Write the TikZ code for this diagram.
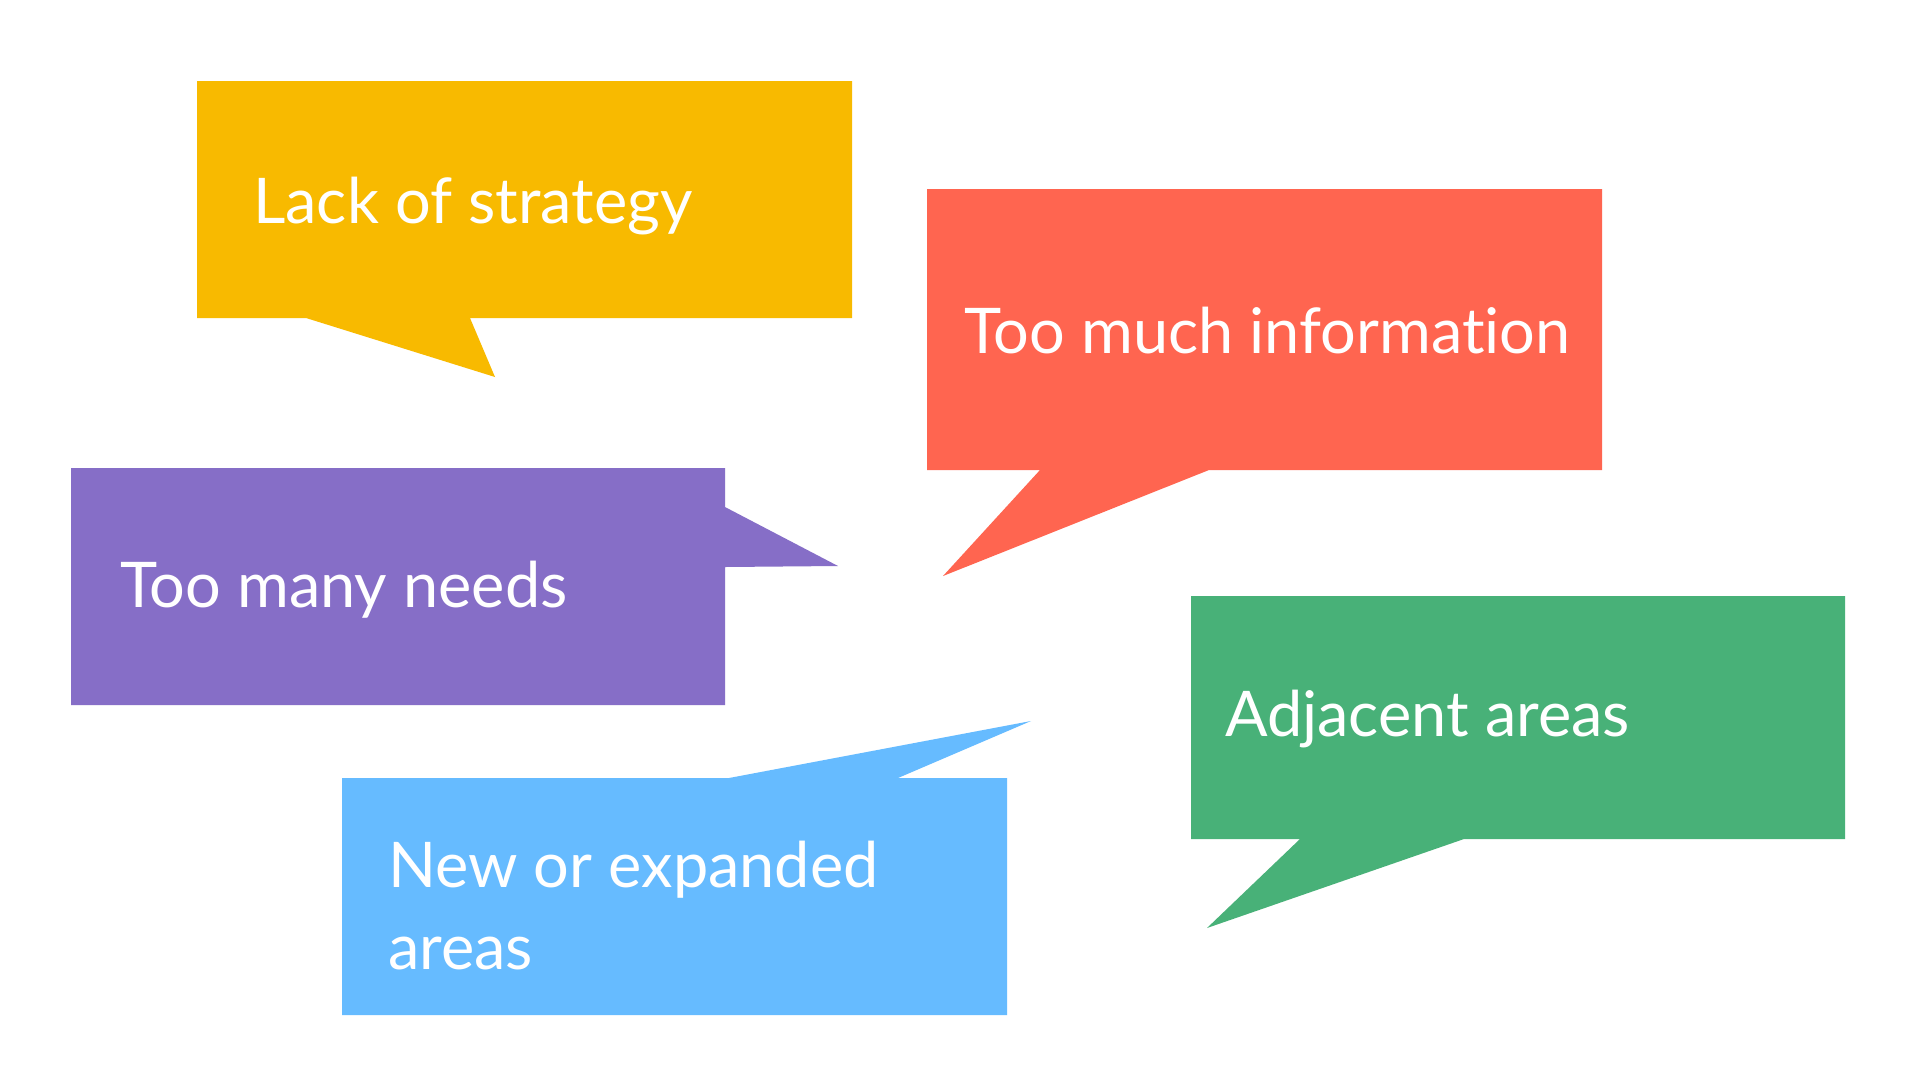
\documentclass[tikz,border=0pt]{standalone}
\usepackage{fontspec}
\setmainfont{Lato}[Ligatures=NoCommon]
\definecolor{cyellow}{HTML}{F8BA00}
\definecolor{cred}{HTML}{FF6550}
\definecolor{cpurple}{HTML}{866EC7}
\definecolor{cblue}{HTML}{66BBFF}
\definecolor{cgreen}{HTML}{48B178}
\begin{document}
\begin{tikzpicture}[x=1pt,y=-1pt,
  bubble/.style={line join=miter},
  label/.style={anchor=base west,inner sep=0pt,text=white,font=\fontsize{63}{80}\selectfont}]
\useasboundingbox[fill=white] (0,0) rectangle (1920,1080);
% yellow
\fill[cyellow,bubble] (197,81) -- (852,81) -- (852,318) -- (470,318) -- (495,377) -- (306,318) -- (197,318) -- cycle;
\node[label] (lack) at (253,223) {Lack of strategy};
% red
\fill[cred,bubble] (927,189) -- (1602,189) -- (1602,470) -- (1209,470) -- (943,576) -- (1040,470) -- (927,470) -- cycle;
\node[label] (info) at (964,353) {Too much information};
% purple
\fill[cpurple,bubble] (71,468) -- (725,468) -- (725,507) -- (838,566) -- (725,567) -- (725,705) -- (71,705) -- cycle;
\node[label] (needs) at (120,607) {Too many needs};
% blue
\fill[cblue,bubble] (342,778) -- (729,778) -- (1031,721) -- (898,778) -- (1007,778) -- (1007,1015) -- (342,1015) -- cycle;
\node[label] (new1) at (388,887) {New or expanded};
\node[label] (new2) at (388,969) {areas};
% green
\fill[cgreen,bubble] (1191,596) -- (1845,596) -- (1845,839) -- (1464,839) -- (1207,928) -- (1300,839) -- (1191,839) -- cycle;
\node[label] (adj) at (1225,736) {Adjacent areas};
\end{tikzpicture}
\end{document}
